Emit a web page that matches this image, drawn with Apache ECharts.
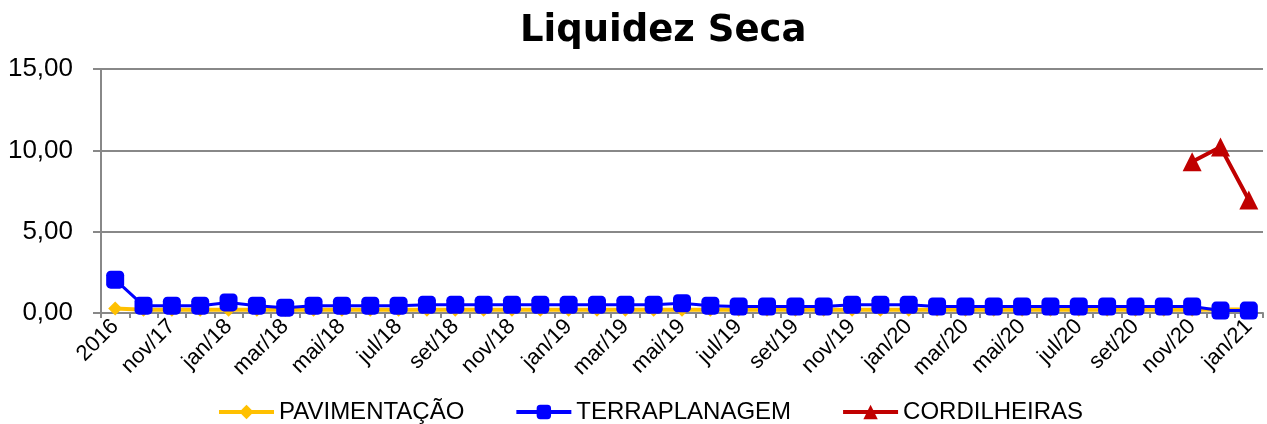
<!DOCTYPE html>
<html><head><meta charset="utf-8">
<script src="https://cdn.jsdelivr.net/npm/echarts@6/dist/echarts.min.js"></script>
<style>html,body{margin:0;padding:0;background:#fff}#c{width:1267px;height:424px}</style>
</head><body><div id="c"></div>
<script>
var categories = ["2016","out/17","nov/17","dez/17","jan/18","fev/18","mar/18","abr/18","mai/18","jun/18","jul/18","ago/18","set/18","out/18","nov/18","dez/18","jan/19","fev/19","mar/19","abr/19","mai/19","jun/19","jul/19","ago/19","set/19","out/19","nov/19","dez/19","jan/20","fev/20","mar/20","abr/20","mai/20","jun/20","jul/20","ago/20","set/20","out/20","nov/20","dez/20","jan/21"];
var pavimentacao = [0.28,0.2,0.2,0.2,0.2,0.2,0.2,0.2,0.2,0.2,0.2,0.2,0.2,0.2,0.2,0.2,0.2,0.2,0.2,0.2,0.2,0.2,0.2,0.2,0.2,0.2,0.2,0.2,0.2,0.2,0.2,0.2,0.2,0.2,0.2,0.2,0.2,0.2,0.2,0.22,0.22];
var terraplanagem = [2.05,0.45,0.45,0.45,0.65,0.45,0.33,0.45,0.45,0.45,0.45,0.5,0.5,0.5,0.5,0.5,0.5,0.5,0.5,0.5,0.6,0.45,0.4,0.4,0.4,0.4,0.5,0.5,0.5,0.4,0.4,0.4,0.4,0.4,0.4,0.4,0.4,0.4,0.4,0.15,0.15];
var cordilheiras = [null,null,null,null,null,null,null,null,null,null,null,null,null,null,null,null,null,null,null,null,null,null,null,null,null,null,null,null,null,null,null,null,null,null,null,null,null,null,9.3,10.2,6.95];
var seriesNames = ["PAVIMENTAÇÃO","TERRAPLANAGEM","CORDILHEIRAS"];

var chart = echarts.init(document.getElementById('c'), null, {renderer:'canvas'});
chart.setOption({
  animation:false,
  title:{text:'Liquidez Seca', left:515, top:8,
    textStyle:{fontFamily:'DejaVu Sans', fontWeight:'bold', fontSize:37, color:'#000'}},
  grid:{left:101, right:4, top:69, bottom:111, containLabel:false},
  legend:{top:395, left:212, itemGap:50, itemWidth:55, itemHeight:18,
    textStyle:{fontFamily:'Liberation Sans', fontSize:24, color:'#000'},
    data:seriesNames.map(function(n){return {name:n, lineStyle:{width:4}};})},
  xAxis:{type:'category', data:categories, boundaryGap:true,
    axisLine:{lineStyle:{color:'#888', width:2}},
    axisTick:{show:true, interval:0, length:5, lineStyle:{color:'#888', width:2}},
    axisLabel:{interval:1, rotate:45, margin:10, fontFamily:'Liberation Sans', fontSize:22, color:'#000'},
    splitLine:{show:false}},
  yAxis:{type:'value', min:0, max:15, interval:5,
    axisLine:{show:true, lineStyle:{color:'#888', width:2}},
    axisTick:{show:true, length:8, lineStyle:{color:'#888', width:2}},
    axisLabel:{margin:28, fontFamily:'Liberation Sans', fontSize:26, color:'#000',
      formatter:function(v){return v.toFixed(2).replace('.',',');}},
    splitLine:{lineStyle:{color:'#888', width:2}}},
  series:[
    {name:seriesNames[0], type:'line', data:pavimentacao, symbol:'diamond', symbolSize:14, showAllSymbol:true,
      lineStyle:{color:'#FFC000', width:4}, itemStyle:{color:'#FFC000'}},
    {name:seriesNames[1], type:'line', data:terraplanagem, symbol:'roundRect', symbolSize:18, showAllSymbol:true,
      lineStyle:{color:'#0000FF', width:3}, itemStyle:{color:'#0000FF'}},
    {name:seriesNames[2], type:'line', data:cordilheiras, symbol:'triangle', symbolSize:19, showAllSymbol:true,
      lineStyle:{color:'#C00000', width:4}, itemStyle:{color:'#C00000'}}
  ]
});
</script></body></html>
